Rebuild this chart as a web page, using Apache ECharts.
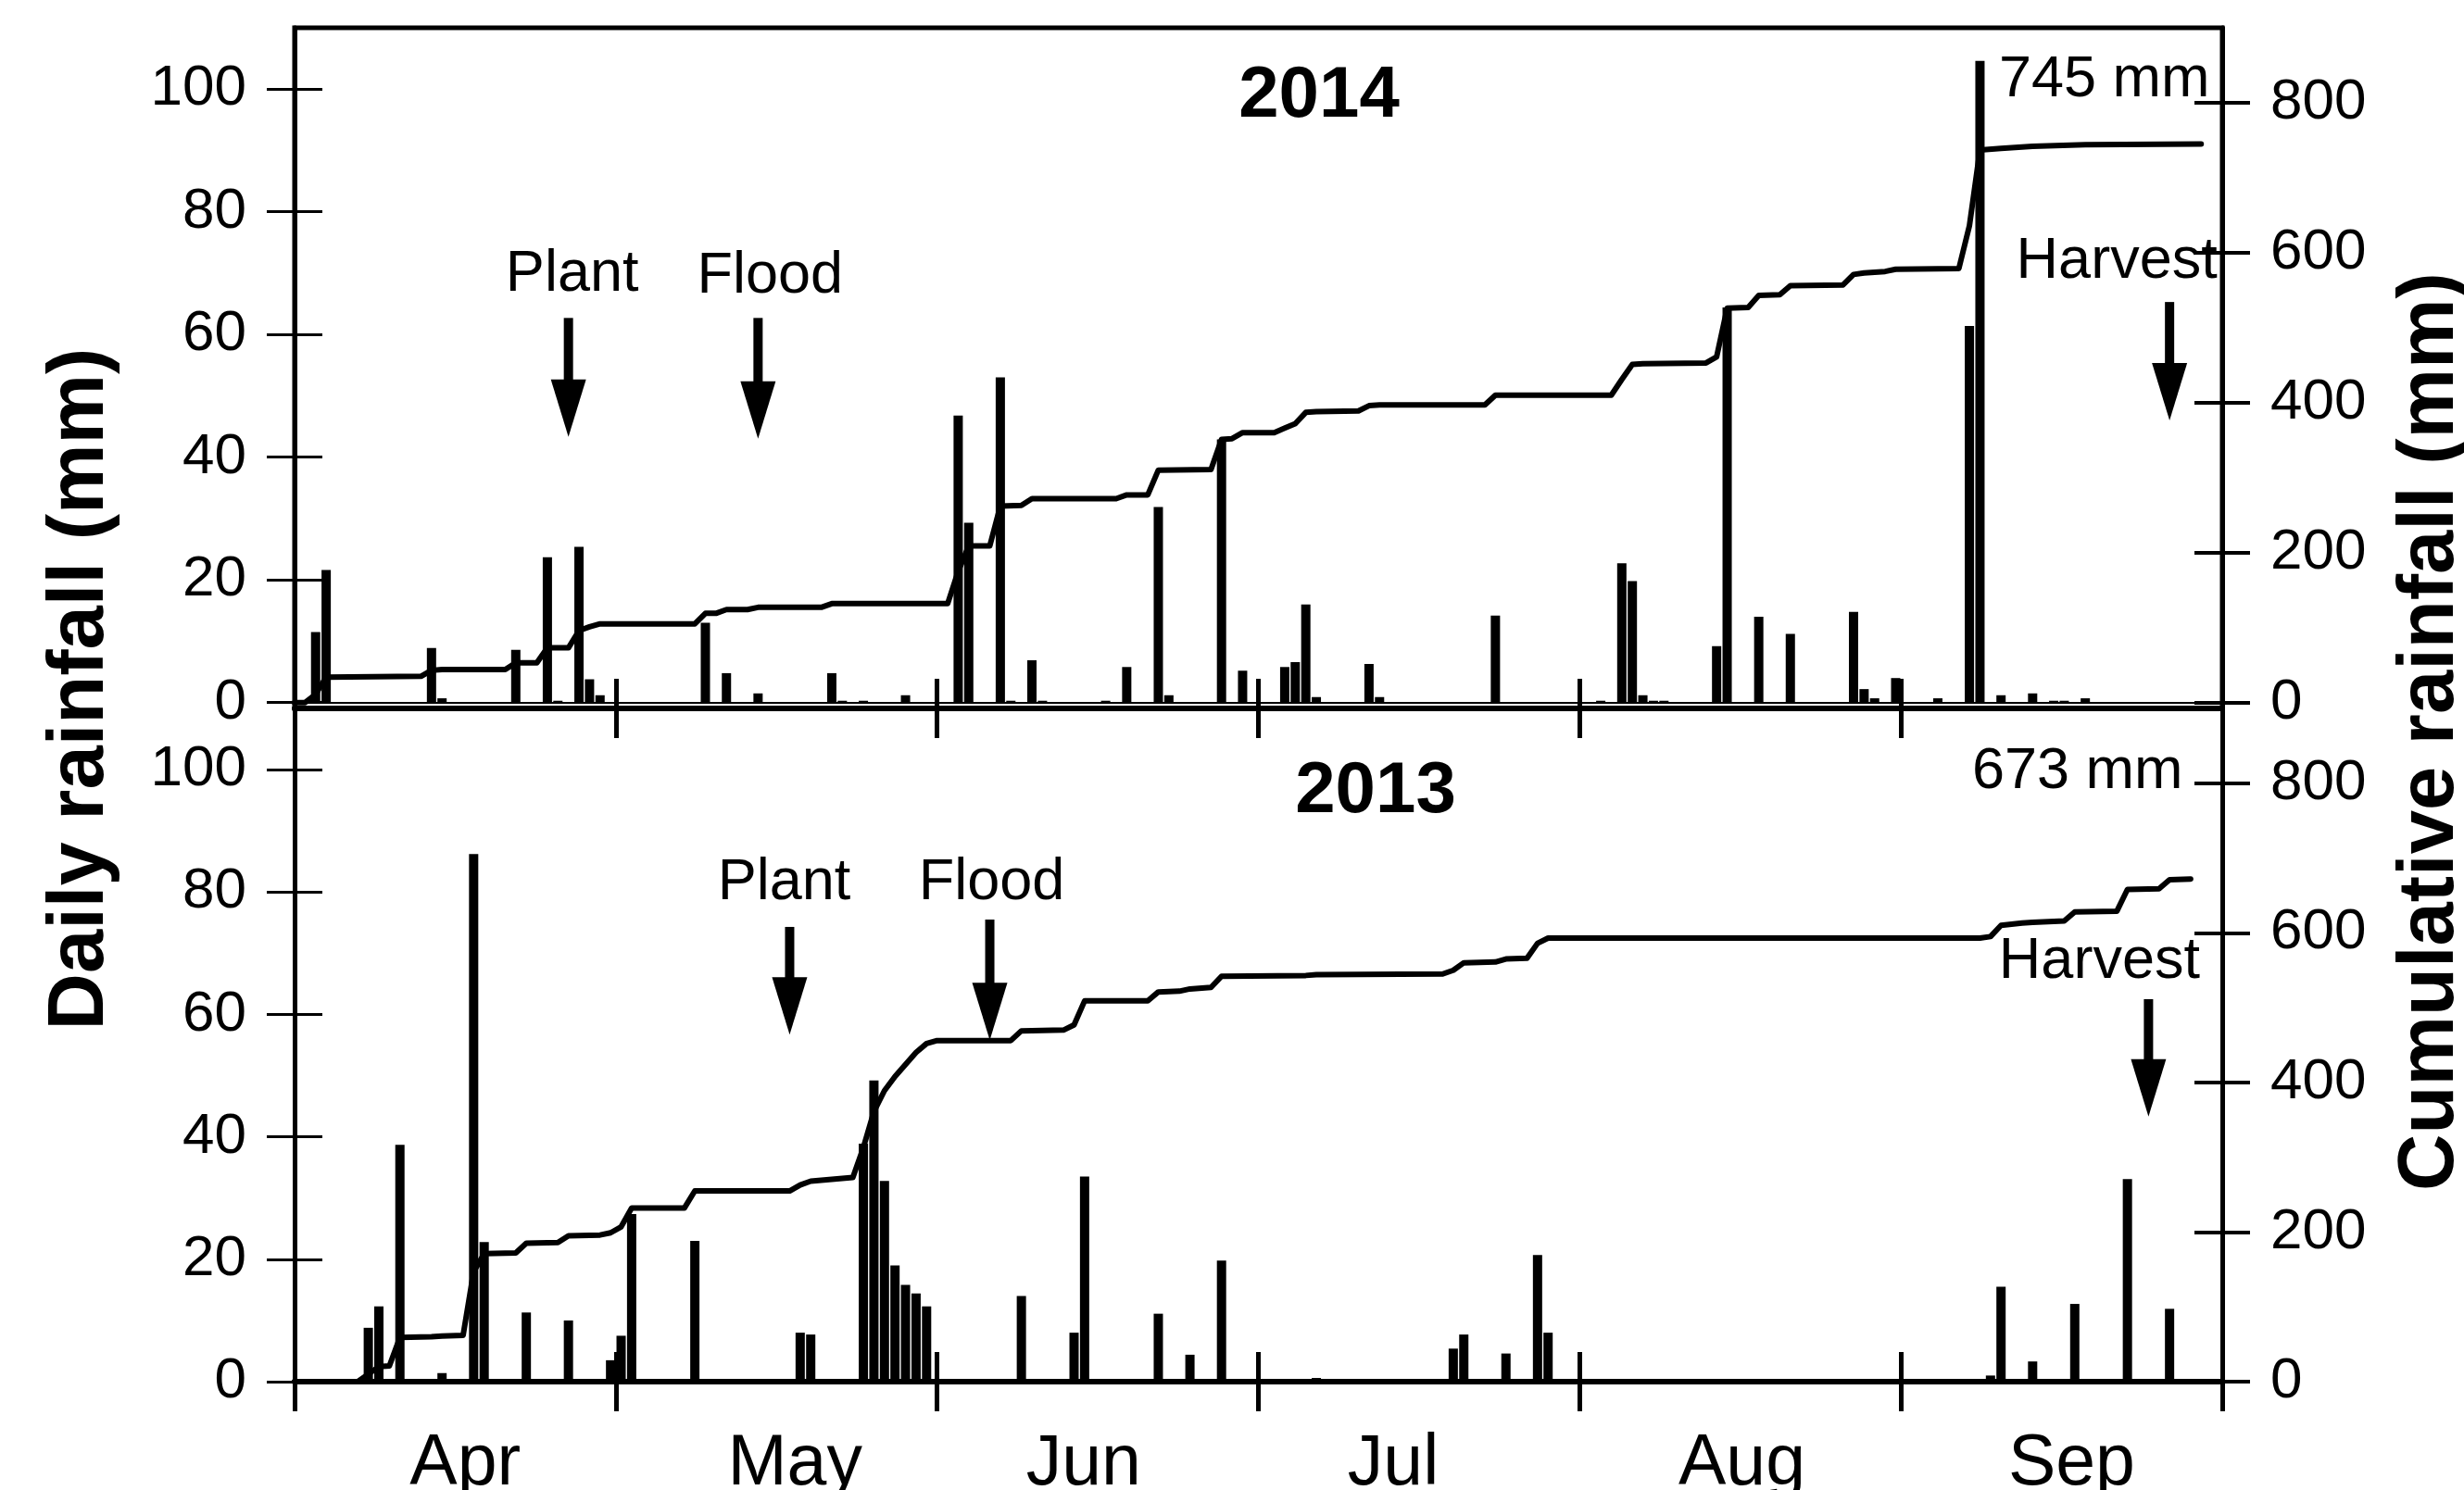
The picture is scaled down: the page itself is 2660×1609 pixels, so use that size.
<!DOCTYPE html>
<html><head><meta charset="utf-8">
<script src="https://cdn.jsdelivr.net/npm/echarts@6/dist/echarts.min.js"></script>
<style>html,body{margin:0;padding:0;background:#fff}#c{width:2660px;height:1609px}</style>
</head><body><div id="c"></div>
<script>
// ---------------- DATA (day 0 = 1 April) ----------------
const monthLabels = ['Apr', 'May', 'Jun', 'Jul', 'Aug', 'Sep'];
const monthTicks = [0, 30.5, 61, 91.5, 122, 152.5, 183];
const rainTicks = [0, 20, 40, 60, 80, 100];
const cumTicks = [0, 200, 400, 600, 800];
const years = ['2014', '2013'];
const totals = ['745 mm', '673 mm'];
const yTitleLeft = 'Daily rainfall (mm)';
const yTitleRight = 'Cumulative rainfall (mm)';

// daily rainfall [day, mm]
const rain2014 = [[2,11.5],[3,21.6],[13,8.9],[14,0.7],[21,8.6],[24,23.7],[25,0.3],[27,25.4],[28,3.8],[29,1.2],
  [39,13.0],[41,4.8],[44,1.5],[51,4.8],[52,0.3],[54,0.3],[58,1.2],[63,46.8],[64,29.3],[67,53.0],[68,0.3],
  [70,6.9],[71,0.3],[77,0.3],[79,5.8],[82,31.9],[83,1.2],[88,42.9],[90,5.2],[94,5.8],[95,6.6],[96,16.0],[97,0.9],
  [102,6.3],[103,0.9],[114,14.2],[124,0.3],[126,22.7],[127,19.8],[128,1.2],[129,0.3],[130,0.3],[135,9.2],[136,64.4],
  [139,14.0],[142,11.2],[148,14.8],[149,2.2],[150,0.7],[152,4.0],[156,0.7],[159,61.4],[160,104.6],[162,1.2],
  [165,1.5],[167,0.3],[168,0.3],[170,0.7]];
// cumulative rainfall [day, mm]
const cum2014 = [[0,0],[1,0],[2,11],[3,34],[12,35],[13,43],[14,44],[20,44],[21,53],[23,53],[24,73],[26,73],[27,96],
  [28,101],[29,105],[38,105],[39,119],[40,119],[41,124],[43,124],[44,127],[50,127],[51,132],[62,132],[63,175],
  [64,209],[66,209],[67,262],[69,263],[70,272],[78,272],[79,277],[81,277],[82,310],[87,311],[88,351],[89,352],
  [90,360],[93,360],[94,366],[95,372],[96,387],[97,388],[101,389],[102,396],[103,397],[113,397],[114,410],
  [125,410],[126,431],[127,451],[128,452],[134,453],[135,461],[136,526],[138,527],[139,543],[141,544],[142,556],
  [147,557],[148,571],[149,573],[150,574],[151,575],[152,578],[158,579],[159,636],[160,737],[162,739],[165,742],
  [170,744],[181,745]];

const rain2013 = [[7,8.8],[8,12.3],[10,38.7],[14,1.4],[17,86.2],[18,22.8],[22,11.3],[24,0.3],[26,10.0],[30,3.5],
  [31,7.5],[32,27.4],[33,0.3],[38,23.0],[48,8.0],[49,7.7],[54,38.9],[55,49.2],[56,32.8],[57,19.0],[58,15.8],
  [59,14.4],[60,12.3],[69,14.0],[74,8.0],[75,33.5],[82,11.1],[85,4.4],[88,19.8],[97,0.6],[110,5.4],[111,7.7],
  [115,4.6],[118,20.7],[119,8.0],[161,1.0],[162,15.5],[165,3.3],[167,0.4],[169,12.7],[174,33.1],[178,11.9]];
const cum2013 = [[0,0],[6,0],[7,10],[8,20],[9,21],[10,59],[13,60],[14,61],[16,62],[17,147],[18,171],[21,172],
  [22,185],[25,186],[26,195],[29,196],[30,199],[31,207],[32,232],[37,232],[38,255],[47,255],[48,263],[49,268],
  [53,273],[54,313],[55,361],[56,389],[57,408],[58,424],[59,440],[60,452],[61,456],[68,456],[69,469],[73,470],
  [74,477],[75,509],[81,509],[82,521],[84,522],[85,525],[87,527],[88,542],[96,543],[97,544],[109,545],[110,550],
  [111,560],[114,561],[115,565],[117,566],[118,586],[119,593],[160,593],[161,595],[162,610],[164,613],[165,614],
  [168,616],[169,628],[173,629],[174,658],[177,659],[178,671],[180,672]];

// crop events [label, day]
const events2014 = [['Plant', 26], ['Flood', 44], ['Harvest', 178]];
const events2013 = [['Plant', 47], ['Flood', 66], ['Harvest', 176]];

// ---------------- LAYOUT / STYLE ----------------
const F = '"Liberation Sans", Arial, Helvetica, sans-serif';
const monthLabelPos = [16.2, 47.5, 74.9, 104.3, 137.4, 168.7];
// arrow geometry per event (in daily-rainfall mm units of the panel), label x offset in px
const lay2014 = {Plant:{top:62.7,tip:43.3,label:69.7,dx:4}, Flood:{top:62.7,tip:43,label:69.5,dx:13}, Harvest:{top:65.3,tip:46,label:71.9,dx:-57}};
const lay2013 = {Plant:{top:74.3,tip:56.7,label:81.4,dx:-6}, Flood:{top:75.5,tip:55.8,label:81.4,dx:2}, Harvest:{top:62.5,tip:43.3,label:68.6,dx:-53}};

function xAx(grid, inside, labels) {
  return {
    type: 'value', gridIndex: grid, min: 0, max: 183, position: 'bottom',
    axisLine: {show: !inside, onZero: false, lineStyle: {color: '#000', width: 6}},
    axisTick: {show: true, inside: inside, length: 32, customValues: monthTicks, lineStyle: {color: '#000', width: 5}},
    axisLabel: {show: labels, customValues: monthLabelPos, margin: 51,
      formatter: function (v) { let b = 0; monthLabelPos.forEach((p, i) => { if (Math.abs(p - v) < Math.abs(monthLabelPos[b] - v)) b = i; }); return monthLabels[b]; },
      fontSize: 77, fontFamily: F, color: '#000'},
    splitLine: {show: false}
  };
}
function yAx(grid, pos, min, max, ticks, inside, tw) {
  return {
    type: 'value', gridIndex: grid, position: pos, min: min, max: max,
    axisLine: {show: !inside, onZero: false, lineStyle: {color: '#000', width: 5}},
    axisTick: {show: true, inside: inside, length: 30, customValues: ticks, lineStyle: {color: '#000', width: tw}},
    axisLabel: {show: !inside, customValues: ticks, margin: 52, fontSize: 62, fontFamily: F, color: '#000'},
    splitLine: {show: false}
  };
}
function notes(xi, yi, events, lay) {
  return {
    type: 'custom', xAxisIndex: xi, yAxisIndex: yi, silent: true, z: 5,
    data: events.map(e => [e[1]]),
    renderItem: function (params, api) {
      const ev = events[params.dataIndex], g = lay[ev[0]], day = ev[1];
      const pTop = api.coord([day, g.top]), pTip = api.coord([day, g.tip]), pLab = api.coord([day, g.label]);
      const x = pTop[0], yBase = pTip[1] - 62;
      return {type: 'group', children: [
        {type: 'line', shape: {x1: x, y1: pTop[1], x2: x, y2: yBase + 4}, style: {stroke: '#000', lineWidth: 10}},
        {type: 'polygon', shape: {points: [[x - 19, yBase], [x + 19, yBase], [x, pTip[1]]]}, style: {fill: '#000'}},
        {type: 'text', x: pLab[0] + g.dx, y: pLab[1], style: {text: ev[0], font: '63px ' + F, fill: '#000', textAlign: 'center', textVerticalAlign: 'middle', align: 'center', verticalAlign: 'middle'}}
      ]};
    }
  };
}
function bars(xi, yi, data, zeroLine) {
  const s = {type: 'bar', xAxisIndex: xi, yAxisIndex: yi, data: data, barWidth: 10, itemStyle: {color: '#000'}, z: 2};
  if (zeroLine) s.markLine = {silent: true, symbol: ['none', 'none'], label: {show: false}, animation: false,
    lineStyle: {color: '#000', width: 2, type: 'solid'}, data: [{yAxis: 0}]};
  return s;
}
function cumLine(xi, yi, data) {
  return {type: 'line', xAxisIndex: xi, yAxisIndex: yi, data: data, showSymbol: false, symbol: 'none',
    lineStyle: {color: '#000', width: 6, join: 'round', cap: 'round'}, z: 3};
}
function txt(x, y, text, font, align, rot) {
  return {type: 'text', x: x, y: y, rotation: rot || 0, silent: true,
    style: {text: text, font: font, fill: '#000', textAlign: align, textVerticalAlign: 'middle', align: align, verticalAlign: 'middle'}};
}

const chart = echarts.init(document.getElementById('c'), null, {renderer: 'canvas', width: 2660, height: 1609});
chart.setOption({
  animation: false,
  backgroundColor: '#fff',
  grid: [
    {left: 318, right: 261, top: 30, height: 735, show: true, borderColor: '#000', borderWidth: 5, backgroundColor: 'transparent', containLabel: false, outerBoundsMode: 'none'},
    {left: 318, right: 261, top: 765, height: 727, containLabel: false, outerBoundsMode: 'none'}
  ],
  xAxis: [xAx(0, false, false), xAx(1, false, true), xAx(0, true, false), xAx(1, true, false)],
  yAxis: [
    yAx(0, 'left', -0.95, 110, rainTicks, false, 3),
    yAx(0, 'right', -7.8, 900, cumTicks, false, 4),
    yAx(1, 'left', 0, 110, rainTicks, false, 3),
    yAx(1, 'right', 0, 900, cumTicks, false, 4),
    yAx(0, 'left', -0.95, 110, rainTicks, true, 3),
    yAx(0, 'right', -7.8, 900, cumTicks, true, 4),
    yAx(1, 'left', 0, 110, rainTicks, true, 3),
    yAx(1, 'right', 0, 900, cumTicks, true, 4)
  ],
  series: [
    bars(0, 0, rain2014, true),
    cumLine(0, 1, cum2014),
    notes(0, 0, events2014, lay2014),
    bars(1, 2, rain2013, false),
    cumLine(1, 3, cum2013),
    notes(1, 2, events2013, lay2013)
  ],
  graphic: [
    txt(1424, 104, years[0], 'bold 78px ' + F, 'center'),
    txt(1485, 855, years[1], 'bold 78px ' + F, 'center'),
    txt(2158, 87, totals[0], '63px ' + F, 'left'),
    txt(2129, 834, totals[1], '63px ' + F, 'left'),
    txt(88, 744, yTitleLeft, 'bold 85px ' + F, 'center', Math.PI / 2),
    txt(2625, 790, yTitleRight, 'bold 85px ' + F, 'center', Math.PI / 2)
  ]
});
</script></body></html>
